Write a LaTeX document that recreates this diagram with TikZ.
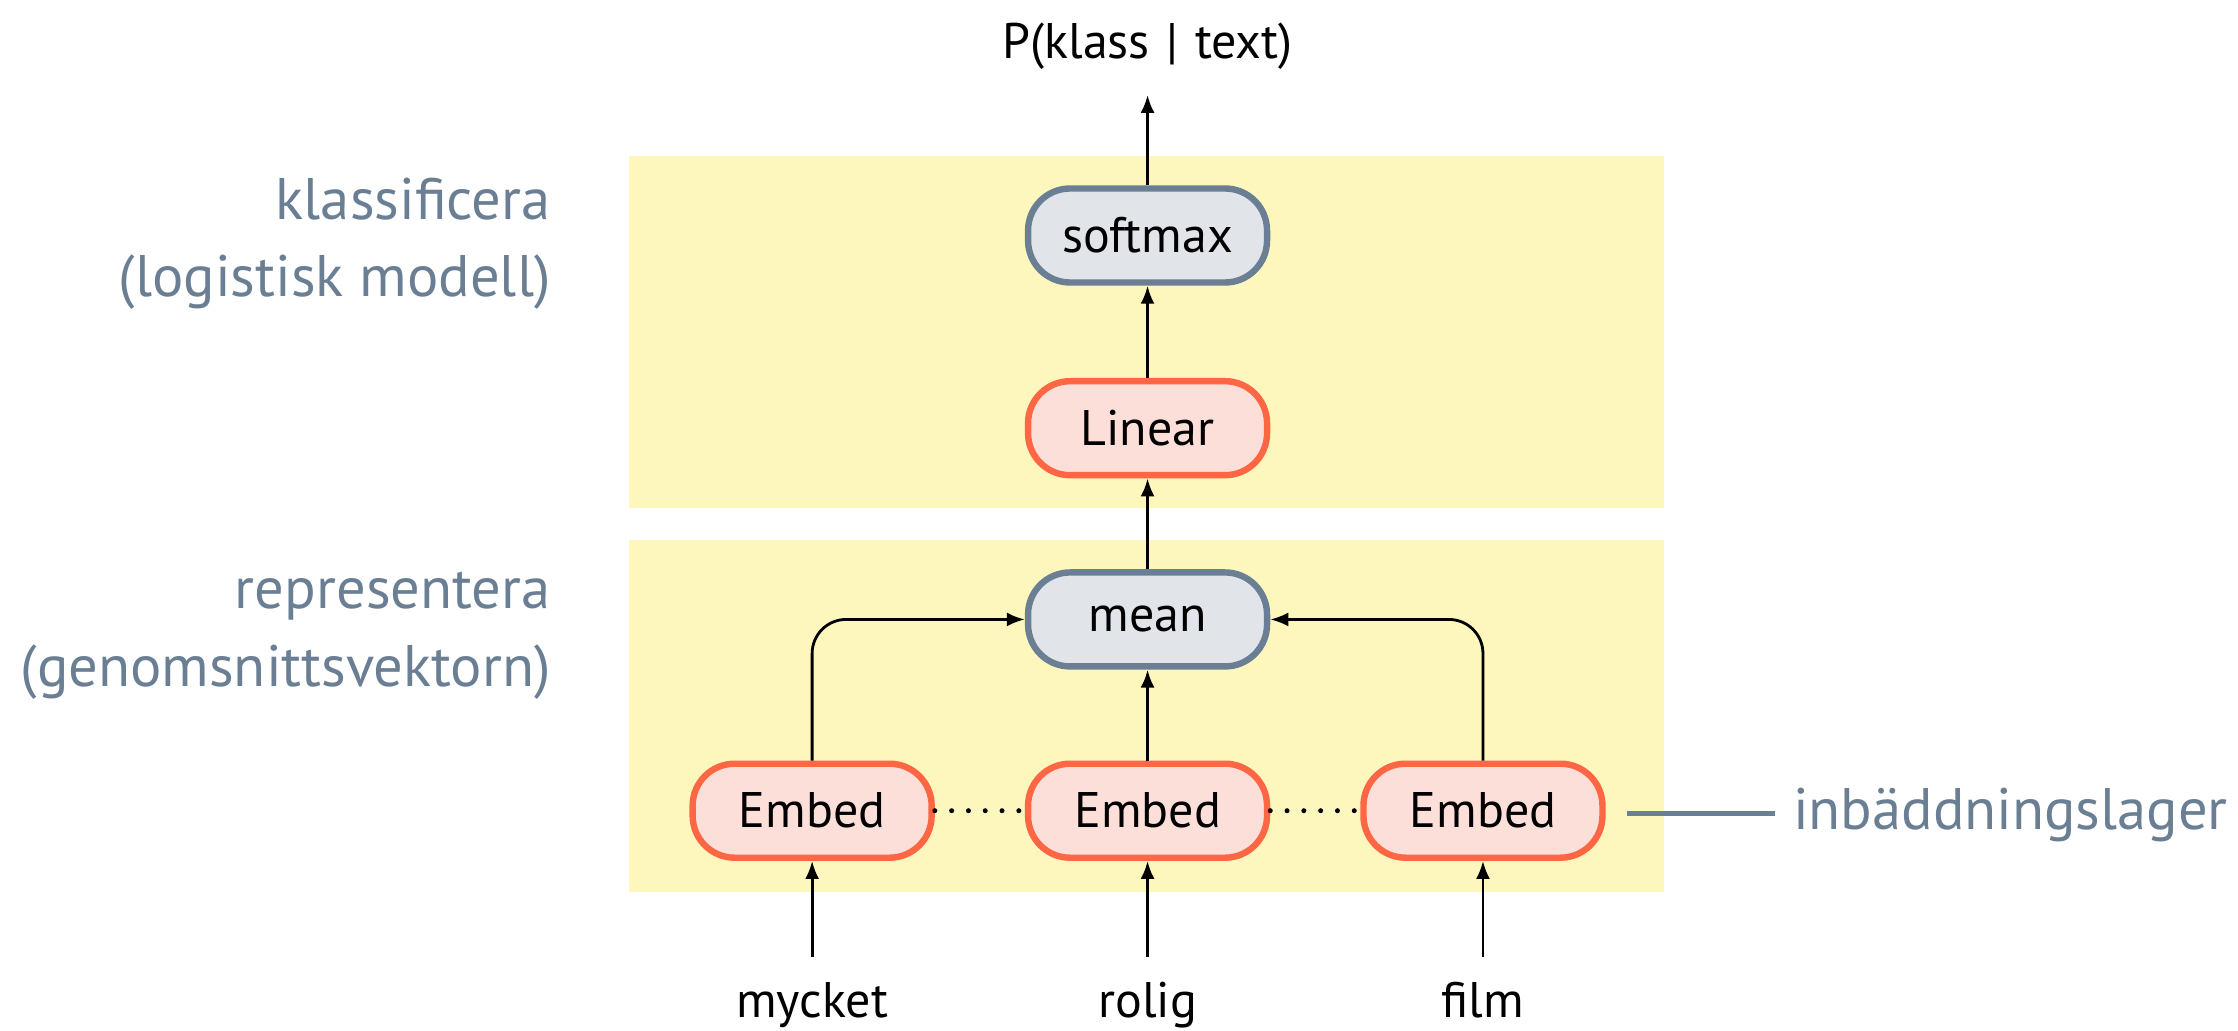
\documentclass[tikz,border=0pt]{standalone}
\usepackage{fontspec}
\setmainfont{PT Sans}
\usetikzlibrary{arrows.meta}
\definecolor{bandyellow}{HTML}{FDF7BE}
\definecolor{nodered}{HTML}{FF6644}
\definecolor{nodepink}{HTML}{FDDFD9}
\definecolor{slate}{HTML}{6A7F93}
\definecolor{nodegray}{HTML}{E1E4E9}
\begin{document}
\begin{tikzpicture}[x=0.71365pt,y=-0.71365pt,
  band/.style={fill=bandyellow, draw=none},
  boxbase/.style={line width=3.2pt, rounded corners=21pt, minimum width=119.5pt,
    minimum height=47pt, inner sep=0pt, font=\fontsize{25}{30}\selectfont},
  redbox/.style={boxbase, draw=nodered, fill=nodepink},
  graybox/.style={boxbase, draw=slate, fill=nodegray},
  word/.style={inner sep=0pt, anchor=base, text height=18.75pt, text depth=6pt,
    font=\fontsize{25}{30}\selectfont},
  conn/.style={-{Latex[length=9pt,width=7pt]}, line width=1.4pt},
  dotline/.style={line width=2.5pt, line cap=round, dash pattern=on 0pt off 8.4pt},
  sidelabel/.style={text=slate, inner sep=0pt, anchor=base east,
    font=\fontsize{29.3}{37}\selectfont},
  leader/.style={draw=slate, line width=2.5pt}
]
\useasboundingbox (0,0) rectangle (1568,722);
% bands
\fill[band] (441,109) rectangle (1166,356);
\fill[band] (441,378) rectangle (1166,625);
% nodes
\node[graybox] (soft) at (804,165) {softmax};
\node[redbox] (lin) at (804,300) {Linear};
\node[graybox] (mean) at (804,434) {mean};
\node[redbox] (e1) at (569,568) {Embed};
\node[redbox] (e2) at (804,568) {Embed};
\node[redbox] (e3) at (1039,568) {Embed};
\node[word] (w1) at (569,713) {mycket};
\node[word] (w2) at (804,713) {rolig};
\node[word] (w3) at (1039,713) {film};
\node[word] (title) at (804,41) {P(klass\,\,|\,\,text)};
% side labels
\node[sidelabel] (l1) at (386,154) {klassificera};
\node[sidelabel] (l2) at (386,208) {(logistisk modell)};
\node[sidelabel] (l3) at (386,426) {representera};
\node[sidelabel] (l4) at (386,481) {(genomsnittsvektorn)};
\node[text=slate, inner sep=0pt, anchor=base west, font=\fontsize{29.3}{37}\selectfont]
  (lab) at (1256,581) {inbäddningslager};
\coordinate (lstart) at (1140,570);
% connectors
\draw[conn] (soft.north) -- (title.south) [shorten >=12pt];
\draw[conn] (lin) -- (soft);
\draw[conn] (mean) -- (lin);
\draw[conn] (e2) -- (mean);
\draw[conn, rounded corners=17pt] (e1.north) |- (mean.west);
\draw[conn, rounded corners=17pt] (e3.north) |- (mean.east);
\draw[conn, shorten <=11.4pt] (w1.north) -- (e1.south);
\draw[conn, shorten <=11.4pt] (w2.north) -- (e2.south);
\draw[conn, shorten <=11.4pt] (w3.north) -- (e3.south);
\draw[dotline] (e1.east) -- (e2.west);
\draw[dotline] (e2.east) -- (e3.west);
\draw[leader, shorten >=9pt] (lstart) -- (lstart -| lab.west);
\end{tikzpicture}
\end{document}
